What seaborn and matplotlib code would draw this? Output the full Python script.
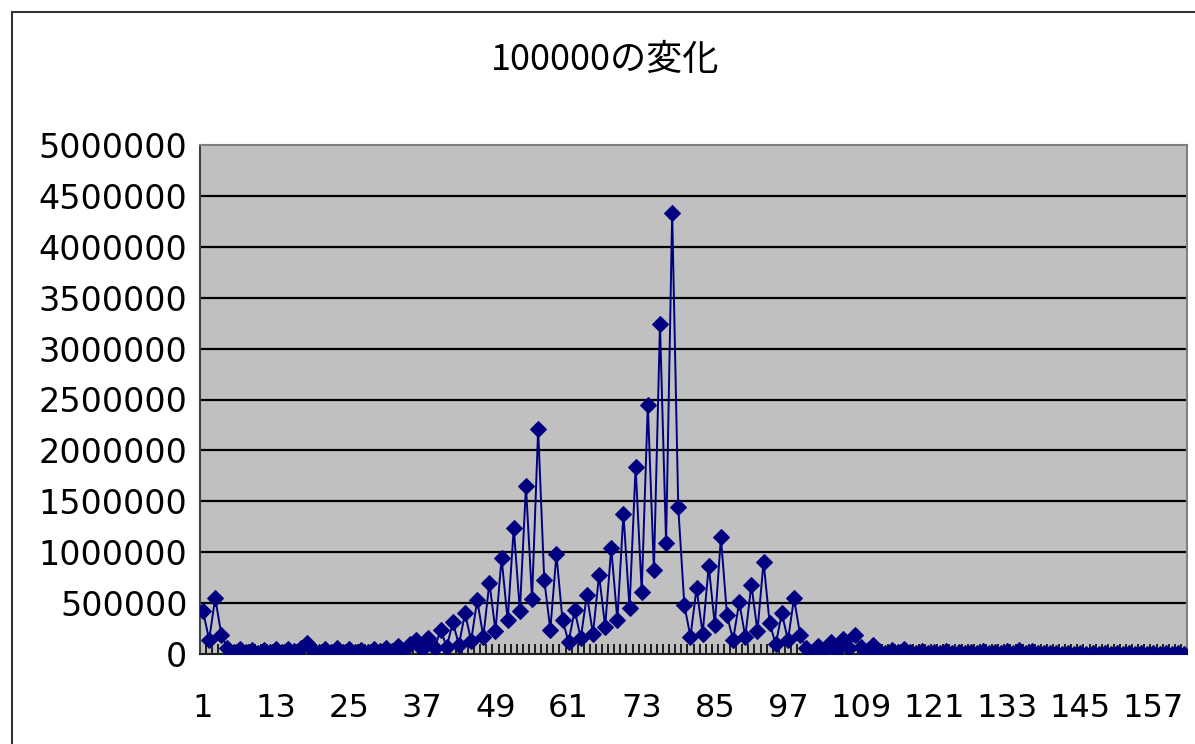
import matplotlib
matplotlib.use("Agg")
import matplotlib.pyplot as plt
import seaborn as sns
import pandas as pd
import numpy as np
from matplotlib.patches import Rectangle
from matplotlib.ticker import FixedLocator

title = "100000の変化"

values = [
    420000, 140000, 550000, 190000, 60000, 20000, 50000, 15000, 40000, 10000,
    35000, 15000, 50000, 20000, 45000, 25000, 60000, 110000, 40000, 20000,
    50000, 15000, 60000, 20000, 50000, 15000, 40000, 20000, 50000, 25000,
    60000, 30000, 80000, 40000, 100000, 137000, 50000, 160000, 60000, 235000,
    70000, 310000, 90000, 400000, 130000, 530000, 170000, 700000, 230000, 940000,
    330000, 1240000, 420000, 1650000, 540000, 2210000, 730000, 240000, 980000, 330000,
    120000, 430000, 154000, 580000, 200000, 776000, 270000, 1040000, 334000, 1380000,
    450000, 1840000, 610000, 2450000, 825000, 3240000, 1090000, 4330000, 1440000, 480000,
    170000, 645000, 200000, 865000, 285000, 1146000, 380000, 137000, 510000, 170000,
    680000, 226000, 907000, 300000, 98000, 400000, 137000, 547000, 190000, 60000,
    20000, 80000, 30000, 120000, 40000, 150000, 60000, 190000, 65000, 25000,
    90000, 30000, 10000, 40000, 15000, 50000, 20000, 10000, 30000, 10000,
    20000, 8000, 25000, 10000, 20000, 8000, 22000, 10000, 25000, 8000,
    20000, 10000, 30000, 12000, 35000, 10000, 25000, 8000, 12000, 5000,
    10000, 4000, 9000, 4000, 8000, 3000, 8000, 3000, 7000, 3000,
    7000, 3000, 6000, 3000, 6000, 3000, 6000, 3000, 5000, 3000,
    5000, 3000,
]
categories = list(range(1, len(values) + 1))
xtick_labels = [str(c) for c in categories if (c - 1) % 12 == 0]
ytick_values = list(range(0, 5000001, 500000))

df = pd.DataFrame({"cat": categories, "val": values})

sns.set_theme(style="white")
plt.rcParams["font.family"] = ["DejaVu Sans"]

W, H = 1195, 744
fig = plt.figure(figsize=(W / 100, H / 100), dpi=100)
fig.patch.set_facecolor("white")

# chart area frame (cut off on right and bottom)
fig.patches.append(Rectangle((12 / W, -0.05), 1.2, (H - 12) / H + 0.05,
                             transform=fig.transFigure, fill=False,
                             edgecolor="#333333", linewidth=1.5))

left, right, top, bottom = 200, 1187, 145, 654
ax = fig.add_axes([left / W, 1 - bottom / H, (right - left) / W, (bottom - top) / H])
ax.set_facecolor("#C0C0C0")

for yv in ytick_values[1:-1]:
    ax.axhline(yv, color="black", linewidth=1.6, zorder=1)

sns.lineplot(data=df, x="cat", y="val", ax=ax, color="#000080", linewidth=1.4,
             marker="D", markersize=8, markeredgecolor="#000080",
             markerfacecolor="#000080", zorder=3)

ax.set_xlim(0.5, len(values) + 0.5)
ax.set_ylim(0, 5000000)
ax.set_yticks(ytick_values)
ax.set_yticklabels([str(v) for v in ytick_values], fontsize=24)
ax.set_xticks([c for c in categories if (c - 1) % 12 == 0])
ax.set_xticklabels(xtick_labels, fontsize=23)
ax.xaxis.set_minor_locator(FixedLocator(np.arange(0.5, len(values) + 1, 1)))
ax.tick_params(axis="x", which="major", length=0, pad=28, colors="black")
ax.tick_params(axis="x", which="minor", length=7, width=1.2, direction="in",
               color="black", bottom=True)
ax.tick_params(axis="y", which="major", length=0, pad=9, colors="black")
ax.set_xlabel("")
ax.set_ylabel("")

for side in ["top", "right"]:
    ax.spines[side].set_color("#808080")
    ax.spines[side].set_linewidth(1.5)
ax.spines["left"].set_color("#404040")
ax.spines["left"].set_linewidth(1.5)
ax.spines["bottom"].set_color("#202020")
ax.spines["bottom"].set_linewidth(1.5)

fig.text(605 / W, 1 - 60 / H, title, ha="center", va="center", fontsize=26,
         family=["Noto Sans CJK JP", "DejaVu Sans"], color="black")

fig.savefig("out.png", dpi=100)
